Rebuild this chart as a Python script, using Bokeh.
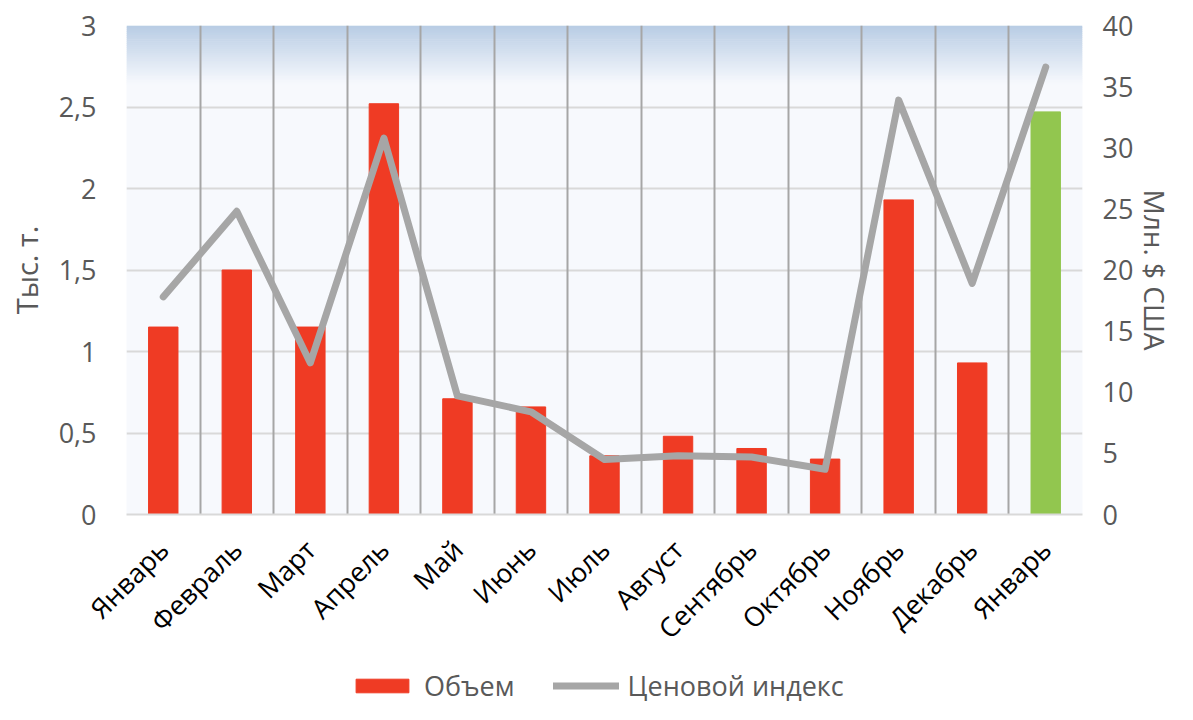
import math
from bokeh.plotting import figure
from bokeh.layouts import column
from bokeh.models import (ColumnDataSource, Range1d, LinearAxis, FixedTicker, Grid,
                          BoxAnnotation, Legend, LegendItem)
from bokeh.embed import file_html
from bokeh.resources import INLINE

# ---- data ----
months = ["Январь", "Февраль", "Март", "Апрель", "Май", "Июнь", "Июль",
          "Август", "Сентябрь", "Октябрь", "Ноябрь", "Декабрь", "Январь"]
volume = [1.15, 1.50, 1.15, 2.52, 0.71, 0.66, 0.36, 0.48, 0.405, 0.34, 1.93, 0.93, 2.47]
price_index = [17.8, 24.8, 12.4, 30.8, 9.7, 8.4, 4.5, 4.8, 4.7, 3.7, 33.9, 18.9, 36.6]
left_ticks = [0, 0.5, 1, 1.5, 2, 2.5, 3]
left_tick_labels = ["0", "0,5", "1", "1,5", "2", "2,5", "3"]
right_ticks = [0, 5, 10, 15, 20, 25, 30, 35, 40]
series_names = ["Объем", "Ценовой индекс"]

FONT = "Open Sans"
RED = "#EF3B24"
GREEN = "#92C64F"
GRAY_TXT = "#595959"
LINE_GRAY = "#A6A6A6"

W = 1177
MAIN_H = 662
LEG_H = 42
BL, BR = 126, 95

x = list(range(len(months)))
colors = [RED] * (len(months) - 1) + [GREEN]
src = ColumnDataSource(dict(x=x, volume=volume, price=price_index, color=colors))

p = figure(width=W, height=MAIN_H,
           x_range=Range1d(-0.5, len(months) - 0.5), y_range=Range1d(0, 3),
           output_backend="svg", toolbar_location=None,
           min_border_left=BL, min_border_right=BR, min_border_top=25, min_border_bottom=148)
p.outline_line_color = None
p.background_fill_color = "#F7F9FD"
p.border_fill_color = "white"

# gradient at the top of the plot area
n_strips = 30
g_top, g_bot = 3.0, 2.64
c0 = (0xB8, 0xCC, 0xE4)
c1 = (0xF7, 0xF9, 0xFD)
h = (g_top - g_bot) / n_strips
for i in range(n_strips):
    t = (i + 0.5) / n_strips
    c = tuple(round(c0[k] + (c1[k] - c0[k]) * t) for k in range(3))
    col = "#%02X%02X%02X" % c
    ba = BoxAnnotation(top=g_top - i * h, bottom=g_top - (i + 1) * h - 0.004,
                       fill_color=col, fill_alpha=1.0, line_color=None, level="image")
    p.add_layout(ba)

# grids
p.xgrid.visible = False
p.ygrid.ticker = FixedTicker(ticks=left_ticks)
p.ygrid.grid_line_color = "#D9D9D9"
p.ygrid.grid_line_width = 2
vgrid = Grid(dimension=0, ticker=FixedTicker(ticks=[i - 0.5 for i in range(len(months) + 1)]),
             grid_line_color=LINE_GRAY, grid_line_width=2)
p.add_layout(vgrid)

# bars
bars = p.vbar(x="x", top="volume", width=0.4, source=src, fill_color="color",
              line_color="color", line_width=1)

# line on secondary axis
p.extra_y_ranges = {"price": Range1d(0, 40)}
line = p.line(x="x", y="price", source=src, y_range_name="price", line_color=LINE_GRAY,
              line_width=7, line_join="round", line_cap="round")

def style_axis(ax, label_size, color):
    ax.major_label_text_font = FONT
    ax.major_label_text_font_size = label_size
    ax.major_label_text_color = color
    ax.major_tick_line_color = None
    ax.minor_tick_line_color = None
    ax.major_tick_out = 0
    ax.major_tick_in = 0
    ax.minor_tick_out = 0
    ax.minor_tick_in = 0

# x axis
xa = p.xaxis[0]
xa.ticker = FixedTicker(ticks=x)
xa.major_label_overrides = {i: m for i, m in enumerate(months)}
xa.major_label_orientation = math.pi / 4
style_axis(xa, "27px", "#000000")
xa.major_label_standoff = 30
xa.axis_line_color = "#D9D9D9"
xa.axis_line_width = 2

# left axis
ya = p.yaxis[0]
ya.ticker = FixedTicker(ticks=left_ticks)
ya.major_label_overrides = {t: l for t, l in zip(left_ticks, left_tick_labels)}
style_axis(ya, "27px", GRAY_TXT)
ya.major_label_standoff = 30
ya.axis_label = "Тыс. т."
ya.axis_label_text_font = FONT
ya.axis_label_text_font_size = "29px"
ya.axis_label_text_font_style = "normal"
ya.axis_label_text_color = GRAY_TXT
ya.axis_label_standoff = 10
ya.axis_line_color = None

# right axis
ra = LinearAxis(y_range_name="price", ticker=FixedTicker(ticks=right_ticks))
style_axis(ra, "27px", GRAY_TXT)
ra.major_label_standoff = 20
ra.axis_label = "Млн. $ США"
ra.axis_label_text_font = FONT
ra.axis_label_text_font_size = "28px"
ra.axis_label_text_font_style = "normal"
ra.axis_label_text_color = GRAY_TXT
ra.axis_label_standoff = 0
ra.axis_line_color = None
p.add_layout(ra, "right")

# legend in its own strip under the chart; its glyphs draw the same data,
# but with ranges that keep them out of view, so only the legend shows
lg = figure(width=W, height=LEG_H, x_range=Range1d(100, 101), y_range=Range1d(100, 101),
            output_backend="svg", toolbar_location=None,
            x_axis_location=None, y_axis_location=None,
            min_border_left=BL, min_border_right=BR, min_border_top=0, min_border_bottom=0)
lg.outline_line_color = None
lg.grid.visible = False
lg.background_fill_color = "white"
lg.extra_y_ranges = {"price": Range1d(100, 101)}
lg_bar = lg.vbar(x="x", top="volume", width=0.4, source=src, fill_color=RED, line_color=RED)
lg_line = lg.line(x="x", y="price", source=src, y_range_name="price", line_color=LINE_GRAY,
                  line_width=7, line_cap="round")
legend = Legend(items=[LegendItem(label=series_names[0], renderers=[lg_bar]),
                       LegendItem(label=series_names[1], renderers=[lg_line])],
                orientation="horizontal", location=(223, 0),
                glyph_width=66, glyph_height=17, label_standoff=9, spacing=38,
                label_text_font=FONT, label_text_font_size="27px", label_text_color=GRAY_TXT,
                border_line_color=None, background_fill_alpha=0, margin=0, padding=0)
lg.add_layout(legend, "center")

open("out.html", "w").write(file_html(column(p, lg, spacing=0), INLINE))
